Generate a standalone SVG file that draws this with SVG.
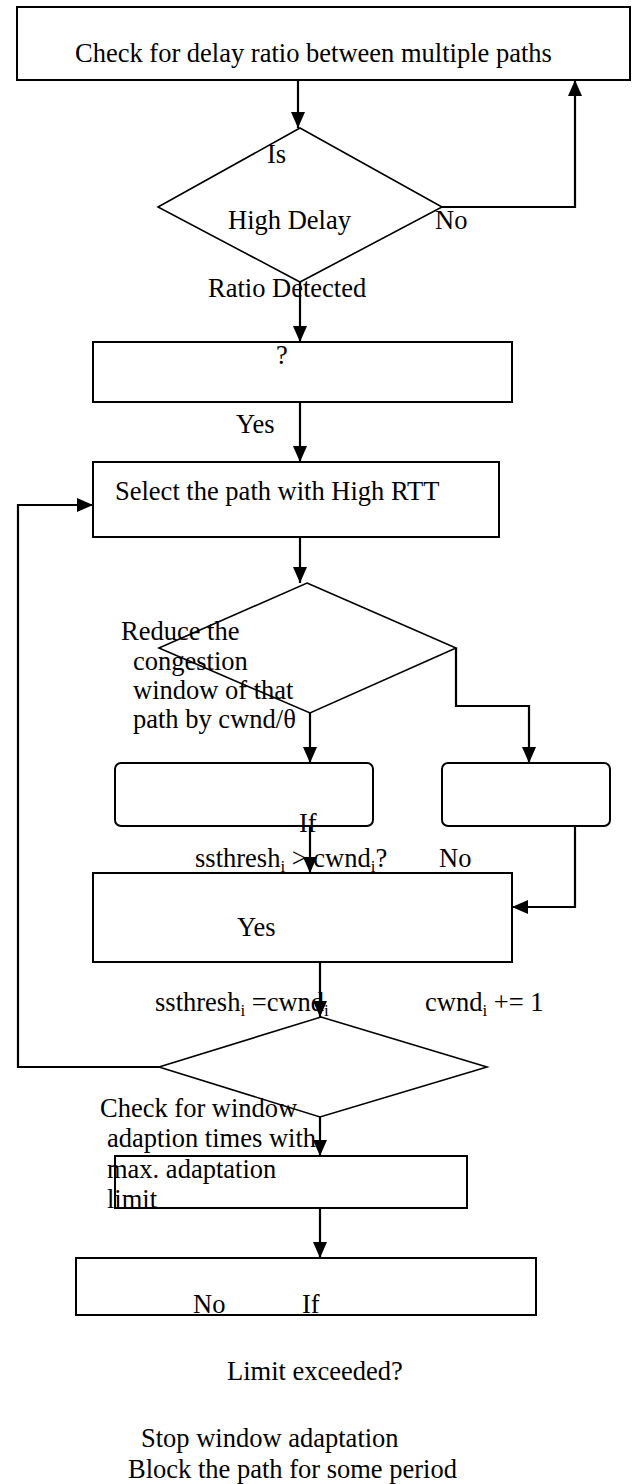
<svg xmlns="http://www.w3.org/2000/svg" width="632" height="1484" viewBox="0 0 632 1484">
  <style>
    .box { fill: none; stroke: #000; stroke-width: 2; }
    .dia { fill: none; stroke: #000; stroke-width: 1.6; }
    .conn { fill: none; stroke: #000; stroke-width: 2.2; }
    text { font-family: "Liberation Serif", "Times New Roman", serif; font-size: 26.5px; fill: #000; }
    .sub { font-size: 17px; }
  </style>
  <defs>
    <marker id="ah" markerUnits="userSpaceOnUse" markerWidth="16" markerHeight="14" viewBox="0 0 16 14" refX="16" refY="7" orient="auto">
      <path d="M0,0 L16,7 L0,14 z" fill="#000"/>
    </marker>
  </defs>
  <rect width="632" height="1484" fill="#fff"/>

  <g id="check-delay">
    <rect class="box" x="17" y="7" width="613" height="73"/>
    <text x="75" y="62">Check for delay ratio between multiple paths</text>
  </g>

  <g id="high-delay-decision">
    <polygon class="dia" points="300,128 442,207 300,282 158,207"/>
    <text x="267" y="163">Is</text>
    <text x="228" y="229">High Delay</text>
    <text x="435" y="229">No</text>
    <text x="208" y="297">Ratio Detected</text>
  </g>

  <g id="question-box">
    <rect class="box" x="93" y="342" width="419" height="60"/>
    <text x="276" y="364">?</text>
    <text x="236" y="433">Yes</text>
  </g>

  <g id="select-path">
    <rect class="box" x="93" y="462" width="406" height="75"/>
    <text x="115" y="500">Select the path with High RTT</text>
  </g>

  <g id="reduce-decision">
    <polygon class="dia" points="307,583 456,648 310,713 159,648"/>
    <text x="121" y="640">Reduce the</text>
    <text x="133" y="670">congestion</text>
    <text x="133" y="699">window of that</text>
    <text x="133" y="728">path by cwnd/θ</text>
  </g>

  <g id="left-rounded">
    <rect class="box" x="115" y="763" width="258" height="63" rx="6"/>
    <text x="299" y="832">If</text>
  </g>

  <g id="right-rounded">
    <rect class="box" x="442" y="763" width="168" height="63" rx="6"/>
  </g>

  <g id="yes-box">
    <rect class="box" x="93" y="873" width="419" height="89"/>
    <text x="195" y="867">ssthresh<tspan class="sub" dy="5">i</tspan><tspan dy="-5"> &gt; cwnd</tspan><tspan class="sub" dy="5">i</tspan><tspan dy="-5">?</tspan></text>
    <text x="439" y="867">No</text>
    <text x="237" y="936">Yes</text>
  </g>

  <g id="update-labels">
    <text x="155" y="1011">ssthresh<tspan class="sub" dy="5">i</tspan><tspan dy="-5"> =cwnd</tspan><tspan class="sub" dy="5">i</tspan></text>
    <text x="425" y="1011">cwnd<tspan class="sub" dy="5">i</tspan><tspan dy="-5"> += 1</tspan></text>
  </g>

  <g id="window-decision">
    <polygon class="dia" points="321,1017 487,1067 320,1117 159,1067"/>
    <text x="100" y="1117">Check for window</text>
    <text x="107" y="1147">adaption times with</text>
    <text x="107" y="1178">max. adaptation</text>
    <text x="107" y="1208">limit</text>
  </g>

  <g id="limit-box">
    <rect class="box" x="115" y="1156" width="352" height="52"/>
  </g>

  <g id="final-box">
    <rect class="box" x="76" y="1258" width="460" height="57"/>
    <text x="193" y="1313">No</text>
    <text x="302" y="1313">If</text>
  </g>

  <g id="trailing-labels">
    <text x="227" y="1380">Limit exceeded?</text>
    <text x="141" y="1447">Stop window adaptation</text>
    <text x="128" y="1478">Block the path for some period</text>
  </g>

  <g id="connectors">
    <path class="conn" d="M298,80 V128" marker-end="url(#ah)"/>
    <path class="conn" d="M442,207 H575 V80" marker-end="url(#ah)"/>
    <path class="conn" d="M300,282 V342" marker-end="url(#ah)"/>
    <path class="conn" d="M300,402 V462" marker-end="url(#ah)"/>
    <path class="conn" d="M300,537 V583" marker-end="url(#ah)"/>
    <path class="conn" d="M310,713 V763" marker-end="url(#ah)"/>
    <path class="conn" d="M456,648 V706 H529 V763" marker-end="url(#ah)"/>
    <path class="conn" d="M310,826 V873" marker-end="url(#ah)"/>
    <path class="conn" d="M575,826 V907 H512" marker-end="url(#ah)"/>
    <path class="conn" d="M320,962 V1017" marker-end="url(#ah)"/>
    <path class="conn" d="M159,1067 H18 V505 H93" marker-end="url(#ah)"/>
    <path class="conn" d="M320,1117 V1156" marker-end="url(#ah)"/>
    <path class="conn" d="M320,1208 V1258" marker-end="url(#ah)"/>
  </g>
</svg>
